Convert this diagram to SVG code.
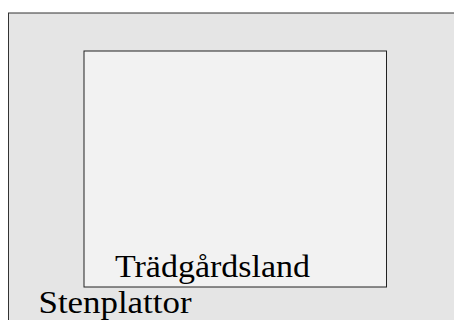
<svg xmlns="http://www.w3.org/2000/svg" width="454" height="320" viewBox="0 0 454 320">
<style>
.lbl{font-family:"Liberation Serif","DejaVu Serif",serif;font-size:32px;fill:#000}
</style>
<rect width="454" height="320" fill="#fff"/>
<g id="stenplattor">
<rect x="8.5" y="13" width="460" height="320" fill="#e5e5e5" stroke="#333" stroke-width="1"/>
<text class="lbl" x="38.5" y="313" textLength="153" lengthAdjust="spacingAndGlyphs">Stenplattor</text>
</g>
<g id="tradgardsland">
<rect x="84" y="51" width="302.5" height="236" fill="#f2f2f2" stroke="#222" stroke-width="1"/>
<text class="lbl" x="115" y="277" textLength="195" lengthAdjust="spacingAndGlyphs">Trädgårdsland</text>
</g>
<g id="connectors"/>
</svg>
